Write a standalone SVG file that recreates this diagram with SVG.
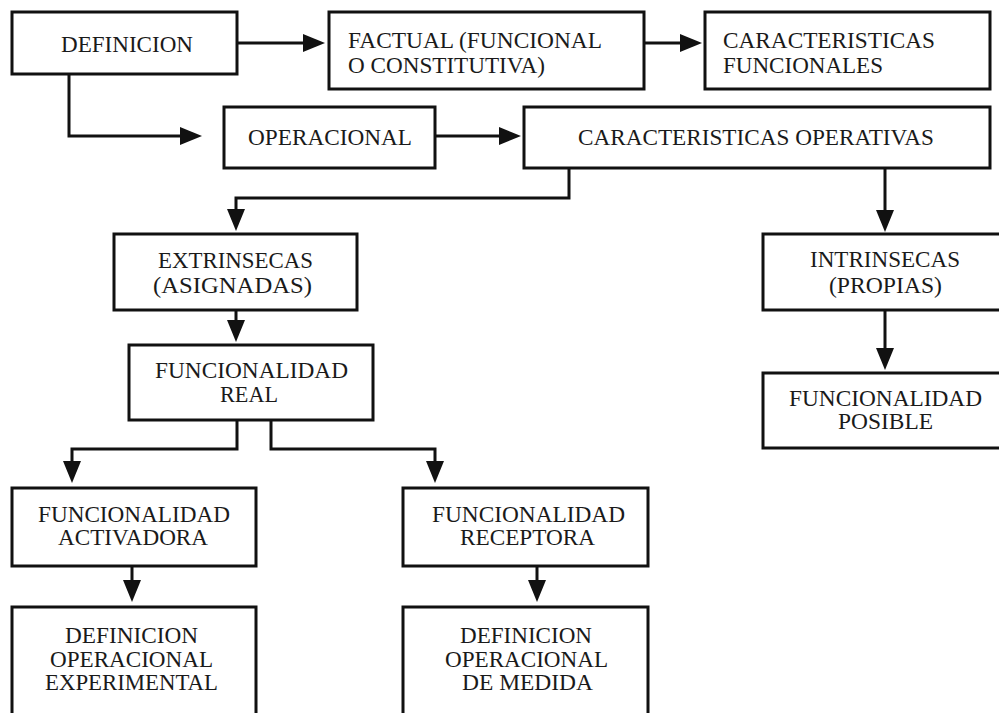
<svg xmlns="http://www.w3.org/2000/svg" width="999" height="713" viewBox="0 0 999 713">
  <style>
    .box { fill: #ffffff; stroke: #111111; stroke-width: 3; }
    .lbl { font-family: "Liberation Serif", "Times New Roman", serif; font-size: 23px; fill: #1a1a1a; }
    .edge { fill: none; stroke: #111111; stroke-width: 3; marker-end: url(#head); }
  </style>
  <defs>
    <marker id="head" viewBox="0 0 22 18" refX="1" refY="9" markerWidth="22" markerHeight="18" markerUnits="userSpaceOnUse" orient="auto">
      <path d="M0,0 L22,9 L0,18 z" fill="#111111"/>
    </marker>
  </defs>
  <rect width="999" height="713" fill="#ffffff"/>

  <g id="connectors">
    <path class="edge" d="M237,43 H304"/>
    <path class="edge" d="M644,43 H681"/>
    <path class="edge" d="M69,74 V136 H181"/>
    <path class="edge" d="M435,136 H500"/>
    <path class="edge" d="M569,168 V198 H236 V210"/>
    <path class="edge" d="M885,168 V211"/>
    <path class="edge" d="M885,310 V349"/>
    <path class="edge" d="M236,310 V321"/>
    <path class="edge" d="M237,420 V449 H72 V462"/>
    <path class="edge" d="M271,420 V449 H435 V462"/>
    <path class="edge" d="M132,566 V581"/>
    <path class="edge" d="M537,566 V581"/>
  </g>

  <g id="definicion">
    <rect class="box" x="12" y="12" width="225" height="62"/>
    <text class="lbl" x="61" y="52" textLength="132" lengthAdjust="spacingAndGlyphs">DEFINICION</text>
  </g>
  <g id="factual">
    <rect class="box" x="329" y="12" width="315" height="77"/>
    <text class="lbl" x="348" y="48" textLength="254" lengthAdjust="spacingAndGlyphs">FACTUAL (FUNCIONAL</text>
    <text class="lbl" x="348" y="73" textLength="197" lengthAdjust="spacingAndGlyphs">O CONSTITUTIVA)</text>
  </g>
  <g id="caracteristicas-funcionales">
    <rect class="box" x="705" y="12" width="285" height="77"/>
    <text class="lbl" x="723" y="48" textLength="212" lengthAdjust="spacingAndGlyphs">CARACTERISTICAS</text>
    <text class="lbl" x="723" y="73" textLength="160" lengthAdjust="spacingAndGlyphs">FUNCIONALES</text>
  </g>
  <g id="operacional">
    <rect class="box" x="224" y="107" width="211" height="61"/>
    <text class="lbl" x="248" y="145" textLength="164" lengthAdjust="spacingAndGlyphs">OPERACIONAL</text>
  </g>
  <g id="caracteristicas-operativas">
    <rect class="box" x="524" y="107" width="466" height="61"/>
    <text class="lbl" x="578" y="145" textLength="356" lengthAdjust="spacingAndGlyphs">CARACTERISTICAS OPERATIVAS</text>
  </g>
  <g id="extrinsecas">
    <rect class="box" x="114" y="234" width="243" height="76"/>
    <text class="lbl" x="158" y="268" textLength="155" lengthAdjust="spacingAndGlyphs">EXTRINSECAS</text>
    <text class="lbl" x="153" y="293" textLength="159" lengthAdjust="spacingAndGlyphs">(ASIGNADAS)</text>
  </g>
  <g id="intrinsecas">
    <rect class="box" x="763" y="234" width="245" height="76"/>
    <text class="lbl" x="810" y="267" textLength="150" lengthAdjust="spacingAndGlyphs">INTRINSECAS</text>
    <text class="lbl" x="829" y="293" textLength="113" lengthAdjust="spacingAndGlyphs">(PROPIAS)</text>
  </g>
  <g id="funcionalidad-real">
    <rect class="box" x="129" y="345" width="244" height="75"/>
    <text class="lbl" x="155" y="378" textLength="193" lengthAdjust="spacingAndGlyphs">FUNCIONALIDAD</text>
    <text class="lbl" x="220" y="402" textLength="58" lengthAdjust="spacingAndGlyphs">REAL</text>
  </g>
  <g id="funcionalidad-posible">
    <rect class="box" x="763" y="373" width="245" height="75"/>
    <text class="lbl" x="789" y="406" textLength="193" lengthAdjust="spacingAndGlyphs">FUNCIONALIDAD</text>
    <text class="lbl" x="838" y="429" textLength="95" lengthAdjust="spacingAndGlyphs">POSIBLE</text>
  </g>
  <g id="funcionalidad-activadora">
    <rect class="box" x="12" y="488" width="244" height="78"/>
    <text class="lbl" x="38" y="522" textLength="192" lengthAdjust="spacingAndGlyphs">FUNCIONALIDAD</text>
    <text class="lbl" x="58" y="545" textLength="150" lengthAdjust="spacingAndGlyphs">ACTIVADORA</text>
  </g>
  <g id="funcionalidad-receptora">
    <rect class="box" x="403" y="488" width="245" height="78"/>
    <text class="lbl" x="432" y="522" textLength="193" lengthAdjust="spacingAndGlyphs">FUNCIONALIDAD</text>
    <text class="lbl" x="460" y="545" textLength="135" lengthAdjust="spacingAndGlyphs">RECEPTORA</text>
  </g>
  <g id="definicion-experimental">
    <rect class="box" x="12" y="607" width="244" height="115"/>
    <text class="lbl" x="65" y="643" textLength="133" lengthAdjust="spacingAndGlyphs">DEFINICION</text>
    <text class="lbl" x="50" y="667" textLength="163" lengthAdjust="spacingAndGlyphs">OPERACIONAL</text>
    <text class="lbl" x="45" y="690" textLength="173" lengthAdjust="spacingAndGlyphs">EXPERIMENTAL</text>
  </g>
  <g id="definicion-medida">
    <rect class="box" x="403" y="607" width="245" height="115"/>
    <text class="lbl" x="460" y="643" textLength="132" lengthAdjust="spacingAndGlyphs">DEFINICION</text>
    <text class="lbl" x="445" y="667" textLength="163" lengthAdjust="spacingAndGlyphs">OPERACIONAL</text>
    <text class="lbl" x="462" y="690" textLength="131" lengthAdjust="spacingAndGlyphs">DE MEDIDA</text>
  </g>
</svg>
